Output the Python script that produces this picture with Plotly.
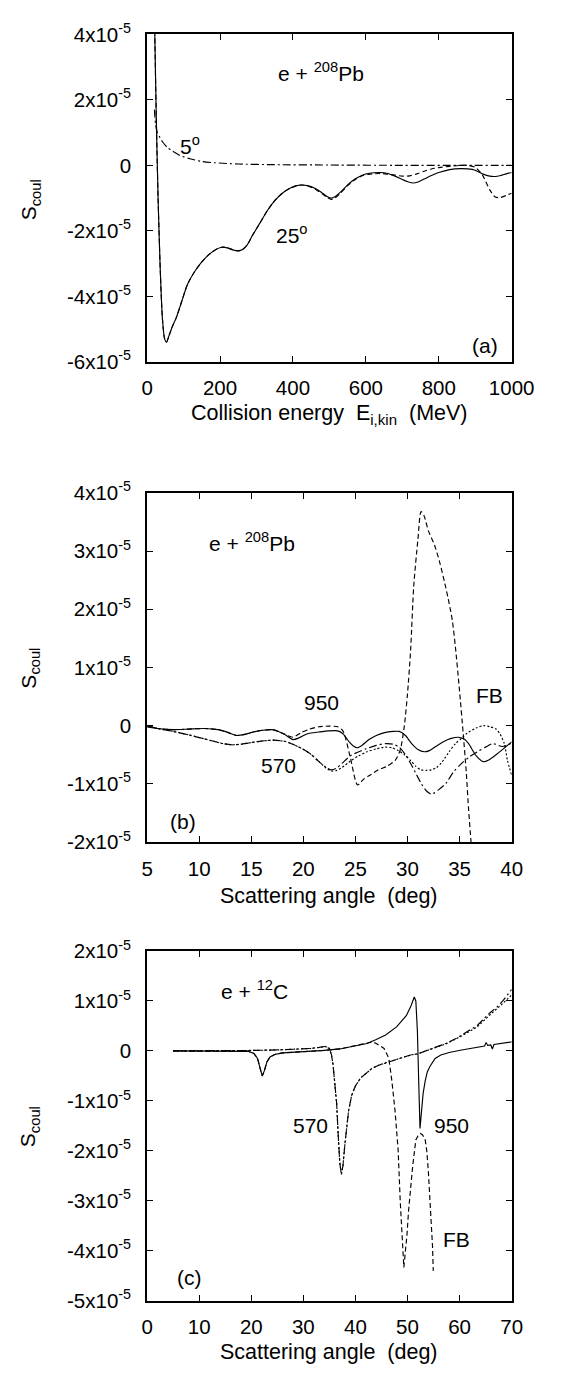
import numpy as np
import plotly.graph_objects as go

# ---------------- data (S_coul in units of 1e-5) ----------------
# Panel (a): e + 208Pb, versus collision energy (MeV)
E_a25 = [14, 18, 21, 25, 30, 36, 42, 48, 53, 60, 70, 80, 95, 110, 130, 150, 170, 190, 205,
         220, 235, 250, 262, 275, 290, 310, 330, 350, 370, 390, 410, 425, 440, 460, 480,
         495, 505, 515, 530, 550, 570, 590, 610, 640, 660, 680, 700, 715, 730, 745, 760,
         780, 800, 830, 860, 880, 900, 920, 940, 955, 970, 985, 1000]
S_a25 = [9, 6, 4, 1.5, -1.0, -3.2, -4.7, -5.3, -5.4, -5.2, -4.9, -4.65, -4.15, -3.65, -3.25,
         -2.95, -2.72, -2.56, -2.5, -2.52, -2.58, -2.61, -2.57, -2.42, -2.12, -1.75, -1.38,
         -1.08, -0.86, -0.71, -0.62, -0.6, -0.62, -0.7, -0.84, -0.96, -1.0, -0.96, -0.82,
         -0.6, -0.42, -0.3, -0.24, -0.22, -0.25, -0.33, -0.43, -0.5, -0.54, -0.5, -0.42,
         -0.31, -0.22, -0.13, -0.1, -0.11, -0.15, -0.26, -0.33, -0.34, -0.31, -0.26, -0.22]
E_a25fb = [14, 18, 21, 25, 30, 36, 42, 48, 53, 60, 70, 80, 95, 110, 130, 150, 170, 190, 205,
           220, 235, 250, 262, 275, 290, 310, 330, 350, 370, 390, 410, 425, 440, 460, 480,
           495, 505, 515, 530, 550, 570, 590, 610, 640, 660, 680, 700, 720, 740, 760, 780,
           800, 830, 860, 880, 900, 920, 940, 955, 970, 985, 1000]
S_a25fb = [9, 6, 4, 1.5, -1.0, -3.2, -4.7, -5.3, -5.4, -5.2, -4.9, -4.65, -4.15, -3.65, -3.25,
           -2.95, -2.72, -2.56, -2.5, -2.52, -2.58, -2.61, -2.57, -2.42, -2.12, -1.75, -1.38,
           -1.08, -0.86, -0.71, -0.62, -0.6, -0.63, -0.72, -0.87, -0.99, -1.04, -1.0, -0.85,
           -0.62, -0.44, -0.32, -0.27, -0.25, -0.27, -0.3, -0.33, -0.32, -0.26, -0.18, -0.11,
           -0.07, -0.03, 0.0, 0.0, -0.06, -0.3, -0.75, -0.97, -0.98, -0.92, -0.85]
E_a5 = [20, 23, 28, 35, 42, 55, 70, 90, 117, 150, 184, 250, 350, 500, 700, 1000]
S_a5 = [1.7, 1.25, 1.0, 0.85, 0.72, 0.55, 0.43, 0.3, 0.2, 0.12, 0.08, 0.04, 0.02, 0.01, 0.0, 0.0]

# Panel (b): e + 208Pb, versus scattering angle (deg)
th_b950 = [5, 6, 7.5, 9, 10.5, 11.8, 12.8, 13.6, 14.4, 15.2, 16.1, 17.0, 17.6, 18.2, 19.0,
           19.6, 20.4, 21.5, 22.4, 23.3, 23.8, 24.4, 24.8, 25.2, 25.7, 26.3, 27.0, 27.8, 28.6,
           29.2, 29.8, 30.4, 31.0, 31.6, 32.1, 32.7, 33.4, 34.2, 34.9, 35.5, 35.9, 36.6, 37.3,
           37.8, 38.5, 39.2, 40]
S_b950 = [-0.02, -0.05, -0.07, -0.06, -0.05, -0.07, -0.12, -0.17, -0.15, -0.11, -0.08, -0.07,
          -0.1, -0.15, -0.24, -0.21, -0.14, -0.11, -0.09, -0.09, -0.14, -0.28, -0.35, -0.38,
          -0.33, -0.24, -0.17, -0.12, -0.1, -0.1, -0.17, -0.31, -0.41, -0.45, -0.43, -0.36,
          -0.28, -0.22, -0.2, -0.24, -0.32, -0.52, -0.62, -0.59, -0.5, -0.4, -0.28]
th_b950fb = [5, 6, 7.5, 9, 10.5, 11.8, 12.8, 13.6, 14.4, 15.2, 16.1, 17.0, 17.6, 18.2, 19.0,
             19.8, 20.6, 21.5, 22.5, 23.3, 23.8, 24.5, 25.2, 25.8, 26.5, 27.2, 28.0, 28.8,
             29.3, 29.7, 30.0, 30.3, 30.6, 31.0, 31.3, 31.6, 32.0, 32.6, 33.1, 33.6, 34.0,
             34.3, 34.6, 35.0, 35.35, 35.65, 35.85, 36.1, 36.3]
S_b950fb = [-0.02, -0.05, -0.07, -0.06, -0.05, -0.07, -0.12, -0.17, -0.15, -0.11, -0.08, -0.07,
            -0.1, -0.15, -0.2, -0.12, -0.06, -0.02, -0.01, -0.02, -0.09, -0.54, -1.02, -0.92,
            -0.84, -0.76, -0.7, -0.6, -0.42, 0.0, 0.55, 1.3, 2.4, 3.2, 3.68, 3.6, 3.35, 3.1,
            2.8, 2.43, 2.1, 1.81, 1.35, 0.59, -0.14, -0.82, -1.4, -2.0, -2.5]
th_b570 = [5, 6, 7.5, 9, 10.1, 11.4, 12.3, 13.1, 14.0, 14.7, 15.8, 17.1, 18.2, 19.0, 19.9,
           20.7, 21.5, 22.2, 22.7, 23.2, 23.7, 24.6, 26.0, 27.0, 27.9, 28.6, 29.2, 29.8, 30.3,
           30.8, 31.3, 31.8, 32.3, 33.0, 33.7, 34.4, 35.2, 36.0, 36.7, 37.5, 38.2, 39.1, 40]
S_b570 = [0.0, -0.05, -0.1, -0.16, -0.21, -0.27, -0.31, -0.33, -0.32, -0.3, -0.27, -0.25,
          -0.27, -0.32, -0.4, -0.49, -0.62, -0.72, -0.76, -0.73, -0.65, -0.51, -0.4, -0.34,
          -0.31, -0.32, -0.37, -0.5, -0.65, -0.82, -0.99, -1.12, -1.18, -1.1, -0.99, -0.8,
          -0.65, -0.53, -0.45, -0.37, -0.31, -0.36, -0.3]
th_b570fb = [5, 6, 7.5, 9, 10.1, 11.4, 12.3, 13.1, 14.0, 14.7, 15.8, 17.1, 18.2, 19.0, 19.9,
             20.7, 21.5, 22.2, 22.7, 23.2, 23.7, 24.6, 25.3, 26.1, 27.0, 27.9, 28.5, 29.1,
             29.7, 30.3, 30.8, 31.3, 31.85, 32.3, 32.8, 33.3, 34.0, 34.6, 35.3, 35.8, 36.6,
             37.3, 37.9, 38.5, 38.9, 39.3, 39.6, 40]
S_b570fb = [0.0, -0.05, -0.1, -0.16, -0.21, -0.27, -0.31, -0.33, -0.32, -0.3, -0.27, -0.25,
            -0.27, -0.32, -0.4, -0.49, -0.62, -0.73, -0.78, -0.77, -0.72, -0.6, -0.52, -0.45,
            -0.4, -0.37, -0.38, -0.43, -0.5, -0.6, -0.7, -0.76, -0.77, -0.76, -0.72, -0.63,
            -0.45, -0.31, -0.2, -0.12, -0.04, 0.0, -0.02, -0.06, -0.15, -0.31, -0.6, -0.85]

# Panel (c): e + 12C, versus scattering angle (deg)
th_c950 = [5, 10, 15, 18, 19.5, 20.5, 21.2, 21.7, 22.1, 22.5, 23.0, 23.6, 24.5, 26, 28, 31, 34,
           37, 40, 42.2, 44, 45.8, 47.9, 49.8, 50.7, 51.3, 51.6, 51.9, 52.15, 52.4, 52.7, 53.0,
           53.4, 53.8, 54.3, 55.3, 56.4, 58, 60.4, 63, 64.8, 65.1, 65.4, 66.0, 66.3, 66.6,
           68.5, 70]
S_c950 = [0, 0, 0, 0, -0.01, -0.05, -0.15, -0.35, -0.5, -0.4, -0.22, -0.12, -0.07, -0.04, -0.03,
          -0.01, 0.01, 0.04, 0.1, 0.15, 0.23, 0.32, 0.48, 0.71, 0.91, 1.08, 1.0, 0.4, -0.6,
          -1.55, -1.2, -0.85, -0.6, -0.42, -0.31, -0.15, -0.08, -0.03, 0.02, 0.07, 0.1, 0.17,
          0.11, 0.12, 0.04, 0.13, 0.15, 0.18]
th_c950fb = [5, 10, 15, 18, 19.5, 20.5, 21.2, 21.7, 22.1, 22.5, 23.0, 23.6, 24.5, 26, 28, 31,
             34, 37, 40, 42.2, 43.3, 44.0, 45.5, 46.4, 47.0, 47.6, 48.2, 48.6, 48.9, 49.1, 49.3,
             49.6, 49.9, 50.2, 50.6, 51.0, 51.6, 52.1, 52.5, 52.9, 53.4, 53.7, 54.0, 54.3,
             54.6, 54.8, 54.95]
S_c950fb = [0, 0, 0, 0, -0.01, -0.05, -0.15, -0.35, -0.5, -0.4, -0.22, -0.12, -0.07, -0.04,
            -0.03, -0.01, 0.01, 0.04, 0.1, 0.15, 0.18, 0.15, 0.05, -0.14, -0.6, -1.19, -1.98,
            -3.0, -3.68, -4.1, -4.33, -4.0, -3.68, -3.2, -2.7, -2.3, -1.78, -1.68, -1.65,
            -1.68, -1.78, -2.0, -2.4, -2.9, -3.5, -3.9, -4.4]
th_c570 = [5, 10, 15, 20, 25, 28, 31.4, 33, 34.2, 35.0, 35.4, 35.7, 36.0, 36.4, 36.7, 37.0,
           37.3, 37.6, 38.0, 38.4, 38.7, 39.3, 40, 41, 42.2, 43.3, 44.6, 46, 47.0, 49, 50.6,
           51.9, 54.6, 57.35, 59.5, 61.5, 63.4, 65.8, 67.2, 68.3, 70]
S_c570 = [0, 0, 0, 0.01, 0.02, 0.03, 0.05, 0.07, 0.09, 0.05, -0.08, -0.27, -0.6, -1.06, -1.7,
          -2.24, -2.47, -2.3, -1.84, -1.45, -1.19, -0.88, -0.7, -0.54, -0.44, -0.34, -0.28,
          -0.23, -0.21, -0.13, -0.08, -0.06, 0.04, 0.15, 0.26, 0.38, 0.51, 0.76, 0.88, 1.0,
          1.23]
th_c570fb = th_c570
S_c570fb = [0, 0, 0, 0.01, 0.02, 0.03, 0.05, 0.07, 0.09, 0.05, -0.08, -0.27, -0.6, -1.06, -1.7,
            -2.24, -2.47, -2.3, -1.84, -1.45, -1.19, -0.88, -0.7, -0.54, -0.44, -0.34, -0.28,
            -0.23, -0.21, -0.13, -0.08, -0.06, 0.04, 0.14, 0.25, 0.36, 0.48, 0.72, 0.84, 0.95,
            1.12]

# tick definitions
xt_a = [0, 200, 400, 600, 800, 1000]
yt_a = [4, 2, 0, -2, -4, -6]
xt_b = [5, 10, 15, 20, 25, 30, 35, 40]
yt_b = [4, 3, 2, 1, 0, -1, -2]
xt_c = [0, 10, 20, 30, 40, 50, 60, 70]
yt_c = [2, 1, 0, -1, -2, -3, -4, -5]

# ---------------- figure ----------------
W, H = 571, 1376
FONT = "Liberation Sans, Arial, sans-serif"
FS_TICK = 20.5
FS_TXT = 21

fig = go.Figure()

DASH = {
    "solid": "solid",
    "dash": "5px,3px",
    "dashdot": "8px,3px,2px,3px",
    "dot": "2px,2px",
}


def add(x, y, xa, ya, style, shape="spline"):
    fig.add_trace(go.Scatter(
        x=x, y=np.array(y, dtype=float) * 1e-5, xaxis=xa, yaxis=ya, mode="lines",
        line=dict(color="black", width=1.15, dash=DASH[style], shape=shape,
                  smoothing=0.7 if shape == "spline" else None),
        showlegend=False, hoverinfo="skip"))


add(E_a5, S_a5, "x", "y", "dashdot")
add(E_a25fb, S_a25fb, "x", "y", "dash")
add(E_a25, S_a25, "x", "y", "solid")

add(th_b570, S_b570, "x2", "y2", "dashdot")
add(th_b570fb, S_b570fb, "x2", "y2", "dot")
add(th_b950fb, S_b950fb, "x2", "y2", "dash")
add(th_b950, S_b950, "x2", "y2", "solid")

add(th_c570fb, S_c570fb, "x3", "y3", "dot", "linear")
add(th_c570, S_c570, "x3", "y3", "dashdot", "linear")
add(th_c950fb, S_c950fb, "x3", "y3", "dash", "linear")
add(th_c950, S_c950, "x3", "y3", "solid", "linear")


def ylab(v):
    if v == 0:
        return "0"
    return f"{v}x10<sup>-5</sup>"


XDOM = [148.7 / W, 532.7 / W]


def ydom(top, bot):
    return [1 - bot / H, 1 - top / H]


common_ax = dict(showline=True, linecolor="black", linewidth=2, mirror="ticks",
                 ticks="inside", ticklen=6, tickwidth=1, tickcolor="black",
                 showgrid=False, zeroline=False,
                 tickfont=dict(family=FONT, size=FS_TICK, color="black"))

fig.update_layout(
    width=W, height=H, margin=dict(l=0, r=0, t=0, b=0),
    paper_bgcolor="white", plot_bgcolor="white",
    font=dict(family=FONT, size=FS_TICK, color="black"),
    xaxis=dict(domain=XDOM, anchor="y", range=[0, 1000], tickvals=xt_a,
               ticklabelstandoff=7, **common_ax),
    yaxis=dict(domain=ydom(20.7, 354.3), anchor="x", range=[-6e-5, 4e-5],
               tickvals=[v * 1e-5 for v in yt_a], ticktext=[ylab(v) for v in yt_a],
               ticklabelstandoff=10, **common_ax),
    xaxis2=dict(domain=XDOM, anchor="y2", range=[5, 40], tickvals=xt_b,
                ticklabelstandoff=7, **common_ax),
    yaxis2=dict(domain=ydom(487.7, 843.3), anchor="x2", range=[-2e-5, 4e-5],
                tickvals=[v * 1e-5 for v in yt_b], ticktext=[ylab(v) for v in yt_b],
                ticklabelstandoff=10, **common_ax),
    xaxis3=dict(domain=XDOM, anchor="y3", range=[0, 70], tickvals=xt_c,
                ticklabelstandoff=7, **common_ax),
    yaxis3=dict(domain=ydom(954.3, 1310.7), anchor="x3", range=[-5e-5, 2e-5],
                tickvals=[v * 1e-5 for v in yt_c], ticktext=[ylab(v) for v in yt_c],
                ticklabelstandoff=10, **common_ax),
)

ann = []


def txt(text, x, y, xref, yref, angle=0, xanchor="center", yanchor="middle", size=FS_TXT):
    ann.append(dict(text=text, x=x, y=y, xref=xref, yref=yref, showarrow=False,
                    textangle=angle, xanchor=xanchor, yanchor=yanchor,
                    font=dict(family=FONT, size=size, color="black")))


# axis titles (paper coordinates from pixel positions)
for ycen in (189, 666, 1133):
    txt("S<sub>coul</sub>", 25 / W, 1 - ycen / H, "paper", "paper", angle=-90)
txt("Collision energy  E<sub>i,kin</sub>  (MeV)", 340.7 / W, 1 - 408 / H, "paper", "paper",
    size=21.5)
txt("Scattering angle  (deg)", 340.7 / W, 1 - 898 / H, "paper", "paper", size=21.5)
txt("Scattering angle  (deg)", 340.7 / W, 1 - 1363 / H, "paper", "paper", size=21.5)

# panel (a)
txt("e + <sup>208</sup>Pb", 477, 2.85e-5, "x", "y")
txt("5<sup>o</sup>", 118, 0.62e-5, "x", "y")
txt("25<sup>o</sup>", 397, -2.1e-5, "x", "y")
txt("(a)", 928, -5.5e-5, "x", "y")
# panel (b)
txt("e + <sup>208</sup>Pb", 15.1, 3.15e-5, "x2", "y2")
txt("950", 21.7, 0.4e-5, "x2", "y2")
txt("570", 17.6, -0.68e-5, "x2", "y2")
txt("FB", 37.9, 0.52e-5, "x2", "y2")
txt("(b)", 8.45, -1.64e-5, "x2", "y2")
# panel (c)
txt("e + <sup>12</sup>C", 20.6, 1.22e-5, "x3", "y3")
txt("570", 31.4, -1.5e-5, "x3", "y3")
txt("950", 58.4, -1.5e-5, "x3", "y3")
txt("FB", 59.5, -3.78e-5, "x3", "y3")
txt("(c)", 8.2, -4.53e-5, "x3", "y3")

fig.update_layout(annotations=ann)
fig.write_html("out.html")
